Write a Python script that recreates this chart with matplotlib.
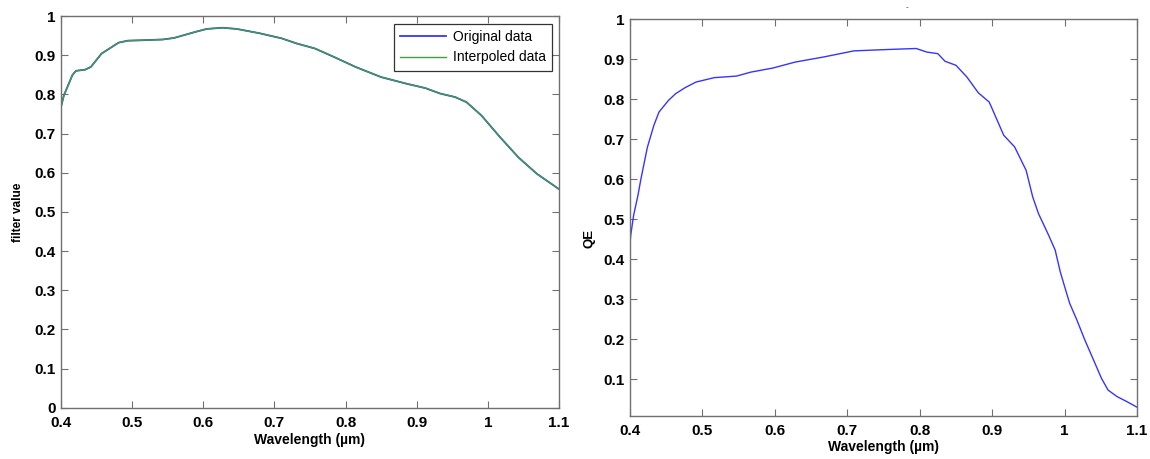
import matplotlib
matplotlib.use("Agg")
import matplotlib.pyplot as plt
import numpy as np

# ---- data ----
filter_wl = [0.400, 0.404, 0.416, 0.421, 0.434, 0.442, 0.457, 0.481, 0.494, 0.512,
             0.543, 0.559, 0.590, 0.605, 0.627, 0.647, 0.679, 0.710, 0.731, 0.757,
             0.783, 0.814, 0.850, 0.886, 0.912, 0.933, 0.954, 0.970, 0.991, 1.017,
             1.043, 1.069, 1.100]
filter_val = [0.768, 0.797, 0.849, 0.860, 0.863, 0.870, 0.904, 0.932, 0.937, 0.938,
              0.940, 0.944, 0.960, 0.967, 0.970, 0.967, 0.956, 0.943, 0.930, 0.917,
              0.896, 0.870, 0.844, 0.827, 0.816, 0.802, 0.793, 0.780, 0.746, 0.691,
              0.639, 0.597, 0.558]

qe_wl = [0.400, 0.401, 0.405, 0.411, 0.415, 0.424, 0.433, 0.440, 0.453, 0.463,
         0.476, 0.491, 0.516, 0.547, 0.567, 0.597, 0.628, 0.668, 0.709, 0.749,
         0.795, 0.810, 0.825, 0.835, 0.850, 0.865, 0.881, 0.896, 0.916, 0.931,
         0.947, 0.956, 0.964, 0.977, 0.987, 0.994, 1.000, 1.007, 1.017, 1.028,
         1.040, 1.051, 1.060, 1.072, 1.086, 1.100]
qe_val = [0.440, 0.460, 0.510, 0.560, 0.600, 0.680, 0.735, 0.768, 0.797, 0.814,
          0.829, 0.843, 0.854, 0.858, 0.868, 0.878, 0.893, 0.906, 0.921, 0.924,
          0.927, 0.918, 0.914, 0.895, 0.885, 0.856, 0.816, 0.793, 0.710, 0.681,
          0.622, 0.556, 0.514, 0.464, 0.423, 0.369, 0.332, 0.290, 0.248, 0.198,
          0.148, 0.102, 0.073, 0.057, 0.044, 0.030]

x_ticks = [0.4, 0.5, 0.6, 0.7, 0.8, 0.9, 1.0, 1.1]
x_tick_labels = ["0.4", "0.5", "0.6", "0.7", "0.8", "0.9", "1", "1.1"]
y_ticks_left = [0.0, 0.1, 0.2, 0.3, 0.4, 0.5, 0.6, 0.7, 0.8, 0.9, 1.0]
y_tick_labels_left = ["0", "0.1", "0.2", "0.3", "0.4", "0.5", "0.6", "0.7", "0.8", "0.9", "1"]
y_ticks_right = [0.1, 0.2, 0.3, 0.4, 0.5, 0.6, 0.7, 0.8, 0.9, 1.0]
y_tick_labels_right = ["0.1", "0.2", "0.3", "0.4", "0.5", "0.6", "0.7", "0.8", "0.9", "1"]

# ---- style ----
plt.rcParams['font.family'] = ['Liberation Sans', 'DejaVu Sans']
W, H = 1150, 459
fig = plt.figure(figsize=(W / 100, H / 100), dpi=100)
fig.patch.set_facecolor('white')

spine_col = '#707070'
blue = '#3535ff'
green = '#3f9f3f'


def fig_rect(x0, y0, x1, y1):
    return [x0 / W, 1 - y1 / H, (x1 - x0) / W, (y1 - y0) / H]


def style_axes(ax, yticks, ylabels, xpad, ypad):
    for s in ax.spines.values():
        s.set_color(spine_col)
        s.set_linewidth(1.0)
    ax.set_xticks(x_ticks)
    ax.set_xticklabels(x_tick_labels)
    ax.set_yticks(yticks)
    ax.set_yticklabels(ylabels)
    ax.tick_params(direction='in', top=True, right=True, length=5, width=0.8,
                   color=spine_col, labelsize=11)
    ax.tick_params(axis='x', pad=xpad)
    ax.tick_params(axis='y', pad=ypad)
    for lab in ax.get_xticklabels() + ax.get_yticklabels():
        lab.set_fontweight('bold')


# left axes
ax1 = fig.add_axes(fig_rect(61, 16, 559, 407.7))
ax1.plot(filter_wl, filter_val, color=blue, lw=1.3, label='Original data')
ax1.plot(filter_wl, filter_val, color=green, lw=1.0, label='Interpoled data')
ax1.set_xlim(0.4, 1.1)
ax1.set_ylim(0, 1)
style_axes(ax1, y_ticks_left, y_tick_labels_left, 6, 4)
ax1.set_xlabel('Wavelength (µm)', fontsize=10, fontweight='bold')
ax1.xaxis.set_label_coords(0.5, -(440 - 407.7) / (407.7 - 16), transform=ax1.transAxes)
ax1.xaxis.label.set_va('center')
ax1.set_ylabel('filter value', fontsize=8.5, fontweight='bold')
ax1.yaxis.set_label_coords(-(61 - 18) / 498, 0.5, transform=ax1.transAxes)
ax1.yaxis.label.set_va('center')
leg = ax1.legend(loc='upper right', bbox_to_anchor=(552 / W, 1 - 24 / H),
                 bbox_transform=fig.transFigure, borderaxespad=0, fancybox=False,
                 edgecolor='black', fontsize=10, handlelength=3.3,
                 labelspacing=0.45, borderpad=0.45, handletextpad=0.5)
leg.get_frame().set_linewidth(0.9)

# right axes
ax2 = fig.add_axes(fig_rect(630, 19.3, 1137, 416))
ax2.plot(qe_wl, qe_val, color=blue, lw=1.0)
ax2.set_xlim(0.4, 1.1)
ax2.set_ylim(0.008, 1)
style_axes(ax2, y_ticks_right, y_tick_labels_right, 6, 4)
ax2.set_xlabel('Wavelength (µm)', fontsize=10, fontweight='bold')
ax2.xaxis.set_label_coords(0.5, -(447 - 416) / (416 - 19.3), transform=ax2.transAxes)
ax2.xaxis.label.set_va('center')
ax2.set_ylabel('QE', fontsize=9.5, fontweight='bold')
ax2.yaxis.set_label_coords(-(630 - 590) / 507, (416 - 238) / (416 - 19.3), transform=ax2.transAxes)
ax2.yaxis.label.set_va('center')

fig.text(907 / W, 1 - 8 / H, '-', fontsize=6, ha='center', va='center', color='#333333')

fig.savefig('out.png', dpi=100, facecolor='white')
